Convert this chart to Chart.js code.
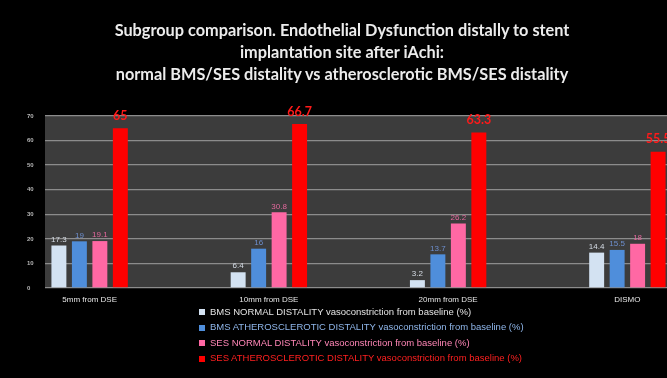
<!DOCTYPE html>
<html>
<head>
<meta charset="utf-8">
<script src="https://cdn.jsdelivr.net/npm/chart.js@4.4.1/dist/chart.umd.min.js"></script>
<style>
  html, body { margin:0; padding:0; background:#000; width:667px; height:378px; overflow:hidden; }
  #wrap { position:relative; width:667px; height:378px; overflow:hidden; background:#000; }
  #box { position:absolute; left:0; top:0; width:717px; height:378px; }
  #title { position:absolute; left:0; top:19px; width:684px; text-align:center; color:#ececec;
           font:bold 16.3px Lato, sans-serif; line-height:22px; }
  #legend { position:absolute; left:199px; top:304px; font:9.5px "Liberation Sans", sans-serif; }
  #legend div { height:15.4px; line-height:15.4px; white-space:nowrap; }
  #legend .sw { display:inline-block; width:6px; height:6px; margin-right:5px; vertical-align:middle; }
</style>
</head>
<body>
<div id="wrap">
  <div id="box"><canvas id="chart"></canvas></div>
  <div id="title">Subgroup comparison. Endothelial Dysfunction distally to stent<br>implantation site after iAchi:<br>normal BMS/SES distality vs atherosclerotic BMS/SES distality</div>
  <div id="legend"></div>
</div>
<script>
// chart data
const categories = ['5mm from DSE', '10mm from DSE', '20mm from DSE', 'DISMO'];
const seriesNames = [
  'BMS NORMAL  DISTALITY vasoconstriction from baseline (%)',
  'BMS ATHEROSCLEROTIC  DISTALITY vasoconstriction from baseline (%)',
  'SES NORMAL  DISTALITY vasoconstriction from baseline (%)',
  'SES ATHEROSCLEROTIC  DISTALITY vasoconstriction from baseline (%)'
];
const bmsNormal = [17.3, 6.4, 3.2, 14.4];
const bmsAthero = [19, 16, 13.7, 15.5];
const sesNormal = [19.1, 30.8, 26.2, 18];
const sesAthero = [65, 66.7, 63.3, 55.5];
const yMin = 0, yMax = 70, yStep = 10;

// styles per series
const barColors = ['#d3e2f2', '#4f8edb', '#ff68a4', '#ff0000'];
const labelColors = ['#d6dde6', '#6d8fcf', '#e2689c', '#ff1a1a'];
const legendColors = ['#e4e4e4', '#8fb6ea', '#ff86b6', '#ff2020'];

function makeSet(i, values) {
  return {
    label: seriesNames[i], data: values,
    backgroundColor: barColors[i], borderWidth: 0,
    categoryPercentage: 0.457, barPercentage: 0.73,
    valueColor: labelColors[i], legendColor: legendColors[i]
  };
}

// plot background, starts right of the y labels
const plotBg = {
  id: 'plotBg',
  beforeDraw(chart) {
    const {ctx, chartArea} = chart;
    ctx.save();
    ctx.fillStyle = '#3c3c3c';
    ctx.fillRect(45, chartArea.top, chartArea.right - 45, chartArea.bottom - chartArea.top);
    ctx.restore();
  },
  beforeDatasetsDraw(chart) {
    // black strip behind the y tick labels
    const {ctx, chartArea} = chart;
    ctx.save();
    ctx.fillStyle = '#000';
    ctx.fillRect(0, chartArea.top - 2, 45, chartArea.bottom - chartArea.top + 4);
    ctx.restore();
  }
};

// value labels over bars
const valueLabels = {
  id: 'valueLabels',
  afterDatasetsDraw(chart) {
    const ctx = chart.ctx;
    ctx.save();
    ctx.textAlign = 'center';
    ctx.textBaseline = 'bottom';
    chart.data.datasets.forEach((ds, i) => {
      const big = i === 3;
      ctx.font = big ? 'bold 12.5px Lato, sans-serif' : '8px "Liberation Sans", sans-serif';
      ctx.fillStyle = ds.valueColor;
      chart.getDatasetMeta(i).data.forEach((bar, j) => {
        ctx.fillText(String(ds.data[j]), bar.x, bar.y - (big ? 6 : 2));
      });
    });
    ctx.restore();
  }
};

// legend as a vertical html list
const htmlLegend = {
  id: 'htmlLegend',
  afterUpdate(chart) {
    const box = document.getElementById('legend');
    box.innerHTML = '';
    chart.options.plugins.legend.labels.generateLabels(chart).forEach(item => {
      const ds = chart.data.datasets[item.datasetIndex];
      const row = document.createElement('div');
      row.style.color = ds.legendColor;
      const sw = document.createElement('span');
      sw.className = 'sw';
      sw.style.background = item.fillStyle;
      row.appendChild(sw);
      row.appendChild(document.createTextNode(item.text));
      box.appendChild(row);
    });
  }
};

new Chart(document.getElementById('chart'), {
  type: 'bar',
  data: {
    labels: categories,
    datasets: [makeSet(0, bmsNormal), makeSet(1, bmsAthero), makeSet(2, sesNormal), makeSet(3, sesAthero)]
  },
  options: {
    responsive: true, maintainAspectRatio: false, animation: false,
    layout: { padding: { top: 116, bottom: 68, left: 0, right: 0 } },
    plugins: { legend: { display: false }, title: { display: false }, tooltip: { enabled: false } },
    scales: {
      x: {
        grid: { display: false, drawTicks: false },
        border: { display: false },
        ticks: { color: '#e6e6e6', font: { size: 8, family: '"Liberation Sans", sans-serif' }, padding: 7, maxRotation: 0 },
        afterFit(scale) { scale.height = 22; }
      },
      y: {
        min: yMin, max: yMax,
        border: { display: false },
        grid: { color: '#8c8c8c', lineWidth: 1.3, drawTicks: false },
        ticks: { stepSize: yStep, mirror: true, padding: 27, z: 1, color: '#b8b8b8',
                 font: { size: 6, weight: 'bold', family: '"Liberation Sans", sans-serif' } },
        afterFit(scale) { scale.width = 0; }
      }
    }
  },
  plugins: [plotBg, valueLabels, htmlLegend]
});
</script>
</body>
</html>
